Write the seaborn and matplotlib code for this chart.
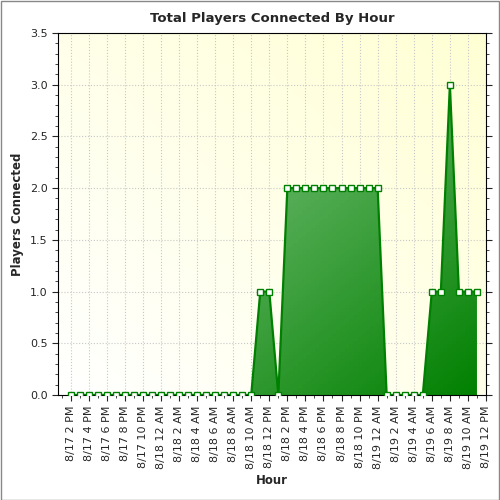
import numpy as np
import matplotlib
matplotlib.use("Agg")
import matplotlib.pyplot as plt
import seaborn as sns
from matplotlib.colors import LinearSegmentedColormap
from matplotlib.ticker import MultipleLocator

sns.set_style("white")
plt.rcParams['font.family'] = ['DejaVu Sans']

hours = list(range(46))
players = [0]*21 + [1, 1, 0] + [2]*11 + [0, 0, 0, 0, 0] + [1, 1, 3, 1, 1, 1]
tick_labels = ["8/17 2 PM", "8/17 4 PM", "8/17 6 PM", "8/17 8 PM", "8/17 10 PM",
               "8/18 12 AM", "8/18 2 AM", "8/18 4 AM", "8/18 6 AM", "8/18 8 AM", "8/18 10 AM",
               "8/18 12 PM", "8/18 2 PM", "8/18 4 PM", "8/18 6 PM", "8/18 8 PM", "8/18 10 PM",
               "8/19 12 AM", "8/19 2 AM", "8/19 4 AM", "8/19 6 AM", "8/19 8 AM", "8/19 10 AM",
               "8/19 12 PM"]

fig = plt.figure(figsize=(5, 5), dpi=100)
ax = fig.add_axes([0.116, 0.21, 0.856, 0.724])
fig.patches.append(plt.Rectangle((0.001, 0.001), 0.997, 0.997, transform=fig.transFigure,
                                 fill=False, edgecolor='#888888', lw=1))
xl = (-1.4, 46)
yl = (0, 3.5)
bg = LinearSegmentedColormap.from_list("bg", ["#ffffff", "#ffffd4"])
gx, gy = np.meshgrid(np.linspace(0, 1, 100), np.linspace(0, 1, 100))
ax.imshow(gx * 0.5 + gy * 0.5, cmap=bg, extent=(*xl, *yl), origin='lower', aspect='auto', zorder=0)

poly = ax.fill_between(hours, players, 0, color='none', zorder=1)
fg = LinearSegmentedColormap.from_list("fg", ["#a8d8a8", "#008000"])
im = ax.imshow(gx * 0.5 + (1 - gy) * 0.5, cmap=fg, extent=(*xl, *yl), origin='lower',
               aspect='auto', zorder=1)
im.set_clip_path(poly.get_paths()[0], transform=ax.transData)

sns.lineplot(x=hours, y=players, ax=ax, color='#008000', lw=1.6, marker='s', markersize=4.5,
             markerfacecolor='white', markeredgecolor='#008000', markeredgewidth=1, zorder=3)

ax.set_xlim(*xl)
ax.set_ylim(*yl)
ax.set_xticks(range(0, 47, 2))
ax.set_xticklabels(tick_labels, rotation=90, fontsize=8)
ax.xaxis.set_minor_locator(MultipleLocator(1))
ax.set_yticks(np.arange(0, 3.51, 0.5))
ax.set_yticklabels([f"{v:.1f}" for v in np.arange(0, 3.51, 0.5)], fontsize=8)
ax.yaxis.set_minor_locator(MultipleLocator(0.1))
ax.tick_params(which='major', direction='out', length=4, bottom=True, left=True, right=True)
ax.tick_params(which='minor', direction='out', length=2, bottom=True, left=True, right=True)
ax.grid(True, which='major', ls=':', color='#c8c8c8', lw=0.8)
for s in ax.spines.values():
    s.set_color('black')
ax.set_title("Total Players Connected By Hour", fontsize=9.5, fontweight='bold', pad=8)
ax.set_xlabel("Hour", fontsize=8.5, fontweight='bold')
ax.set_ylabel("Players Connected", fontsize=8.5, fontweight='bold')
fig.savefig("out.png", dpi=100)
